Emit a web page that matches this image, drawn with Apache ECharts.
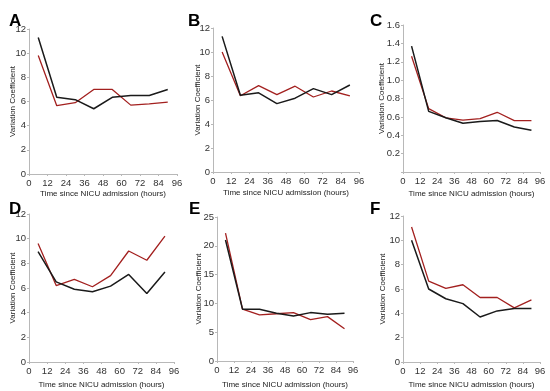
<!DOCTYPE html>
<html><head><meta charset="utf-8">
<script src="https://cdn.jsdelivr.net/npm/echarts@6/dist/echarts.min.js"></script>
<style>html,body{margin:0;padding:0;background:#fff}#c{width:550px;height:391px}</style>
</head><body><div id="c"></div>
<script>
const hours = [6, 18, 30, 42, 54, 66, 78, 90];
const xTicks = [0, 12, 24, 36, 48, 60, 72, 84, 96];
const panelLabels = ['A', 'B', 'C', 'D', 'E', 'F'];
const blackA = [11.3, 6.35, 6.15, 5.4, 6.35, 6.5, 6.5, 7.0];
const redA   = [9.8, 5.65, 5.9, 7.0, 7.0, 5.7, 5.8, 5.95];
const blackB = [11.3, 6.4, 6.6, 5.7, 6.15, 6.95, 6.45, 7.25];
const redB   = [10.0, 6.35, 7.2, 6.45, 7.15, 6.25, 6.75, 6.35];
const blackC = [1.37, 0.66, 0.59, 0.53, 0.55, 0.56, 0.49, 0.455];
const redC   = [1.26, 0.69, 0.59, 0.565, 0.58, 0.65, 0.56, 0.56];
const blackD = [8.95, 6.5, 5.9, 5.7, 6.15, 7.1, 5.55, 7.3];
const redD   = [9.6, 6.2, 6.7, 6.1, 7.0, 9.0, 8.25, 10.2];
const blackE = [21.0, 9.0, 9.0, 8.3, 7.8, 8.4, 8.1, 8.3];
const redE   = [22.2, 9.0, 8.0, 8.2, 8.4, 7.2, 7.7, 5.6];
const blackF = [10.0, 6.0, 5.2, 4.8, 3.7, 4.2, 4.4, 4.4];
const redF   = [11.1, 6.65, 6.05, 6.35, 5.3, 5.3, 4.45, 5.1];
const yMax = [12, 12, 1.6, 12, 25, 12];
const yStep = [2, 2, 0.2, 2, 5, 2];
const xTitle = 'Time since NICU admission (hours)';
const yTitle = 'Variation Coefficient';

const blacks = [blackA, blackB, blackC, blackD, blackE, blackF];
const reds = [redA, redB, redC, redD, redE, redF];

const grids = [
  {left: 29, top: 29, width: 148, height: 145},
  {left: 213, top: 28, width: 146, height: 144},
  {left: 403, top: 25, width: 137, height: 147},
  {left: 29, top: 214, width: 145, height: 148},
  {left: 217, top: 217, width: 136, height: 144},
  {left: 403, top: 216, width: 137, height: 146}
];
const letterPos = [[4, 8], [183, 8], [365, 8], [4, 196], [184, 196], [365, 196]];
const yTitleX = [13, 198, 382, 13, 199, 383];
const xTitleY = [192, 191, 192, 383, 383, 383];

const font = 'Arial, "Liberation Sans", sans-serif';
const opt = {
  animation: false,
  backgroundColor: '#fff',
  title: [],
  grid: [],
  xAxis: [],
  yAxis: [],
  series: []
};
for (let i = 0; i < 6; i++) {
  const g = grids[i];
  opt.grid.push(Object.assign({containLabel: false}, g));
  opt.title.push({text: panelLabels[i], left: letterPos[i][0], top: letterPos[i][1],
    textStyle: {fontSize: 17, fontWeight: 'bold', color: '#000', fontFamily: font}});
  opt.xAxis.push({
    type: 'value', gridIndex: i, min: 0, max: 96, interval: 12,
    axisLine: {show: true, lineStyle: {color: '#b8b8b8', width: 1}},
    axisTick: {show: true, length: 2, lineStyle: {color: '#b8b8b8'}},
    axisLabel: {fontSize: 9.5, color: '#333', margin: 4, fontFamily: font},
    splitLine: {show: false},
    name: xTitle, nameLocation: 'middle', nameMoveOverlap: false,
    nameGap: xTitleY[i] - (g.top + g.height) - 2,
    nameTextStyle: {fontSize: 8, color: '#222', fontFamily: font}
  });
  const dec = yStep[i] < 1;
  opt.yAxis.push({
    type: 'value', gridIndex: i, min: 0, max: yMax[i], interval: yStep[i],
    axisLine: {show: true, lineStyle: {color: '#b8b8b8', width: 1}},
    axisTick: {show: true, length: 2, lineStyle: {color: '#b8b8b8'}},
    axisLabel: {fontSize: 9.5, color: '#333', margin: 3, fontFamily: font,
      formatter: v => dec ? (v === 0 ? '' : v.toFixed(1)) : String(v)},
    splitLine: {show: false},
    name: yTitle, nameLocation: 'middle', nameRotate: 90, nameMoveOverlap: false,
    nameGap: g.left - yTitleX[i] - 4,
    nameTextStyle: {fontSize: 8, color: '#222', fontFamily: font}
  });
  opt.series.push({
    type: 'line', xAxisIndex: i, yAxisIndex: i, symbol: 'none',
    data: hours.map((h, k) => [h, blacks[i][k]]),
    lineStyle: {color: '#1a1a1a', width: 1.5}, z: 3
  });
  opt.series.push({
    type: 'line', xAxisIndex: i, yAxisIndex: i, symbol: 'none',
    data: hours.map((h, k) => [h, reds[i][k]]),
    lineStyle: {color: '#a3201f', width: 1.3}, z: 2
  });
}
const chart = echarts.init(document.getElementById('c'), null, {renderer: 'canvas'});
chart.setOption(opt);
</script>
</body></html>
